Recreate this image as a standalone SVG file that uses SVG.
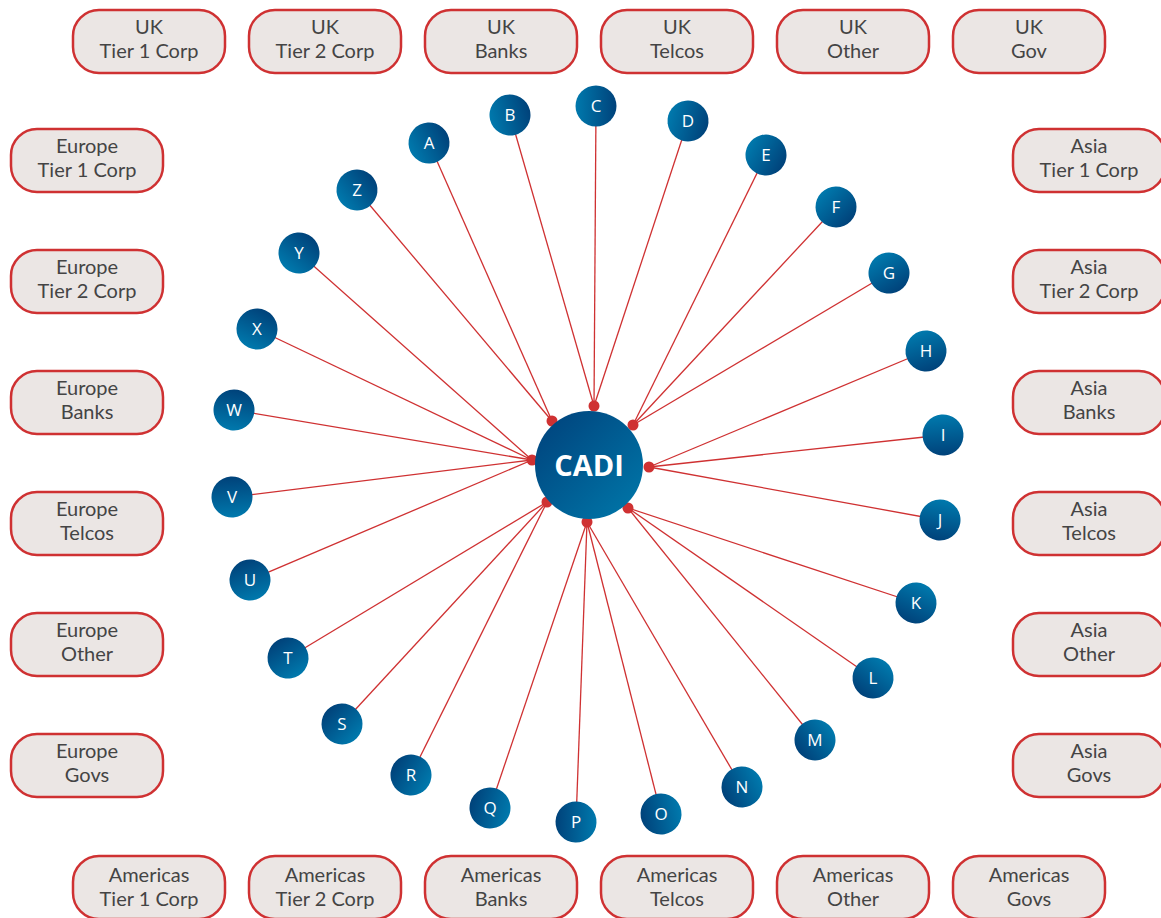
<svg xmlns="http://www.w3.org/2000/svg" width="1161" height="918" viewBox="0 0 1161 918">
<style>
.box rect{fill:#ebe6e4;stroke:#cf3132;stroke-width:2.5}
.box text{font-family:Lato,"Liberation Sans",sans-serif;font-size:20px;fill:#444;text-anchor:middle}
.conn line{stroke:#cf3132;stroke-width:1.3}
.dot{fill:#cf3132}
.node text{font-family:"Open Sans","Liberation Sans",sans-serif;font-size:17px;fill:#fff;text-anchor:middle}
.hub text{font-family:"Open Sans","Liberation Sans",sans-serif;font-size:29px;font-weight:bold;fill:#fff;text-anchor:middle}
</style>
<defs>
<linearGradient id="g" x1="0" y1="0" x2="1" y2="0">
<stop offset="0" stop-color="#0079ad"/>
<stop offset="1" stop-color="#00427a"/>
</linearGradient>
<linearGradient id="gh" x1="0" y1="0" x2="1" y2="1">
<stop offset="0" stop-color="#00407a"/>
<stop offset="1" stop-color="#0079ab"/>
</linearGradient>
</defs>

<g id="boxes">
<g id="uk-t1" class="box"><rect x="73" y="10" width="152" height="63" rx="26"/><text x="149" y="34">UK</text><text x="149" y="58">Tier 1 Corp</text></g>
<g id="uk-t2" class="box"><rect x="249" y="10" width="152" height="63" rx="26"/><text x="325" y="34">UK</text><text x="325" y="58">Tier 2 Corp</text></g>
<g id="uk-banks" class="box"><rect x="425" y="10" width="152" height="63" rx="26"/><text x="501" y="34">UK</text><text x="501" y="58">Banks</text></g>
<g id="uk-telcos" class="box"><rect x="601" y="10" width="152" height="63" rx="26"/><text x="677" y="34">UK</text><text x="677" y="58">Telcos</text></g>
<g id="uk-other" class="box"><rect x="777" y="10" width="152" height="63" rx="26"/><text x="853" y="34">UK</text><text x="853" y="58">Other</text></g>
<g id="uk-gov" class="box"><rect x="953" y="10" width="152" height="63" rx="26"/><text x="1029" y="34">UK</text><text x="1029" y="58">Gov</text></g>

<g id="eu-t1" class="box"><rect x="11" y="129" width="152" height="63" rx="26"/><text x="87" y="153">Europe</text><text x="87" y="177">Tier 1 Corp</text></g>
<g id="eu-t2" class="box"><rect x="11" y="250" width="152" height="63" rx="26"/><text x="87" y="274">Europe</text><text x="87" y="298">Tier 2 Corp</text></g>
<g id="eu-banks" class="box"><rect x="11" y="371" width="152" height="63" rx="26"/><text x="87" y="395">Europe</text><text x="87" y="419">Banks</text></g>
<g id="eu-telcos" class="box"><rect x="11" y="492" width="152" height="63" rx="26"/><text x="87" y="516">Europe</text><text x="87" y="540">Telcos</text></g>
<g id="eu-other" class="box"><rect x="11" y="613" width="152" height="63" rx="26"/><text x="87" y="637">Europe</text><text x="87" y="661">Other</text></g>
<g id="eu-govs" class="box"><rect x="11" y="734" width="152" height="63" rx="26"/><text x="87" y="758">Europe</text><text x="87" y="782">Govs</text></g>

<g id="as-t1" class="box"><rect x="1013" y="129" width="152" height="63" rx="26"/><text x="1089" y="153">Asia</text><text x="1089" y="177">Tier 1 Corp</text></g>
<g id="as-t2" class="box"><rect x="1013" y="250" width="152" height="63" rx="26"/><text x="1089" y="274">Asia</text><text x="1089" y="298">Tier 2 Corp</text></g>
<g id="as-banks" class="box"><rect x="1013" y="371" width="152" height="63" rx="26"/><text x="1089" y="395">Asia</text><text x="1089" y="419">Banks</text></g>
<g id="as-telcos" class="box"><rect x="1013" y="492" width="152" height="63" rx="26"/><text x="1089" y="516">Asia</text><text x="1089" y="540">Telcos</text></g>
<g id="as-other" class="box"><rect x="1013" y="613" width="152" height="63" rx="26"/><text x="1089" y="637">Asia</text><text x="1089" y="661">Other</text></g>
<g id="as-govs" class="box"><rect x="1013" y="734" width="152" height="63" rx="26"/><text x="1089" y="758">Asia</text><text x="1089" y="782">Govs</text></g>

<g id="am-t1" class="box"><rect x="73" y="856" width="152" height="63" rx="26"/><text x="149" y="882">Americas</text><text x="149" y="906">Tier 1 Corp</text></g>
<g id="am-t2" class="box"><rect x="249" y="856" width="152" height="63" rx="26"/><text x="325" y="882">Americas</text><text x="325" y="906">Tier 2 Corp</text></g>
<g id="am-banks" class="box"><rect x="425" y="856" width="152" height="63" rx="26"/><text x="501" y="882">Americas</text><text x="501" y="906">Banks</text></g>
<g id="am-telcos" class="box"><rect x="601" y="856" width="152" height="63" rx="26"/><text x="677" y="882">Americas</text><text x="677" y="906">Telcos</text></g>
<g id="am-other" class="box"><rect x="777" y="856" width="152" height="63" rx="26"/><text x="853" y="882">Americas</text><text x="853" y="906">Other</text></g>
<g id="am-govs" class="box"><rect x="953" y="856" width="152" height="63" rx="26"/><text x="1029" y="882">Americas</text><text x="1029" y="906">Govs</text></g>
</g>

<g id="connectors" class="conn">
<line x1="594" y1="406" x2="510" y2="115"/>
<line x1="594" y1="406" x2="596" y2="106"/>
<line x1="594" y1="406" x2="688" y2="121"/>
<line x1="552" y1="421" x2="429" y2="143"/>
<line x1="552" y1="421" x2="357" y2="190"/>
<line x1="532" y1="460" x2="299" y2="253"/>
<line x1="532" y1="460" x2="257" y2="329"/>
<line x1="532" y1="460" x2="234" y2="410"/>
<line x1="532" y1="460" x2="232" y2="497"/>
<line x1="532" y1="460" x2="250" y2="580"/>
<line x1="547" y1="502" x2="288" y2="658"/>
<line x1="547" y1="502" x2="342" y2="724"/>
<line x1="547" y1="502" x2="411" y2="775"/>
<line x1="587" y1="522" x2="490" y2="808"/>
<line x1="587" y1="522" x2="576" y2="822"/>
<line x1="587" y1="522" x2="661" y2="814"/>
<line x1="587" y1="522" x2="742" y2="787"/>
<line x1="628" y1="508" x2="815" y2="740"/>
<line x1="628" y1="508" x2="873" y2="678"/>
<line x1="628" y1="508" x2="916" y2="603"/>
<line x1="649" y1="467" x2="940" y2="520"/>
<line x1="649" y1="467" x2="943" y2="435"/>
<line x1="649" y1="467" x2="926" y2="351"/>
<line x1="633" y1="425" x2="889" y2="273"/>
<line x1="633" y1="425" x2="836" y2="207"/>
<line x1="633" y1="425" x2="766" y2="155"/>
<circle class="dot" cx="594" cy="406" r="5.5"/>
<circle class="dot" cx="552" cy="421" r="5.5"/>
<circle class="dot" cx="532" cy="460" r="5.5"/>
<circle class="dot" cx="547" cy="502" r="5.5"/>
<circle class="dot" cx="587" cy="522" r="5.5"/>
<circle class="dot" cx="628" cy="508" r="5.5"/>
<circle class="dot" cx="649" cy="467" r="5.5"/>
<circle class="dot" cx="633" cy="425" r="5.5"/>
</g>

<g id="hub" class="hub"><circle cx="589" cy="465" r="54" fill="url(#gh)"/><text x="589" y="476">CADI</text></g>

<g id="nodes">
<g id="nA" class="node"><circle cx="429" cy="143" r="20.5" fill="url(#g)" transform="rotate(-26 429 143)"/><text x="429" y="149">A</text></g>
<g id="nB" class="node"><circle cx="510" cy="115" r="20.5" fill="url(#g)" transform="rotate(-14 510 115)"/><text x="510" y="121">B</text></g>
<g id="nC" class="node"><circle cx="596" cy="106" r="20.5" fill="url(#g)" transform="rotate(0 596 106)"/><text x="596" y="112">C</text></g>
<g id="nD" class="node"><circle cx="688" cy="121" r="20.5" fill="url(#g)" transform="rotate(16 688 121)"/><text x="688" y="127">D</text></g>
<g id="nE" class="node"><circle cx="766" cy="155" r="20.5" fill="url(#g)" transform="rotate(30 766 155)"/><text x="766" y="161">E</text></g>
<g id="nF" class="node"><circle cx="836" cy="207" r="20.5" fill="url(#g)" transform="rotate(44 836 207)"/><text x="836" y="213">F</text></g>
<g id="nG" class="node"><circle cx="889" cy="273" r="20.5" fill="url(#g)" transform="rotate(58 889 273)"/><text x="889" y="279">G</text></g>
<g id="nH" class="node"><circle cx="926" cy="351" r="20.5" fill="url(#g)" transform="rotate(72 926 351)"/><text x="926" y="357">H</text></g>
<g id="nI" class="node"><circle cx="943" cy="435" r="20.5" fill="url(#g)" transform="rotate(85 943 435)"/><text x="943" y="441">I</text></g>
<g id="nJ" class="node"><circle cx="940" cy="520" r="20.5" fill="url(#g)" transform="rotate(100 940 520)"/><text x="940" y="526">J</text></g>
<g id="nK" class="node"><circle cx="916" cy="603" r="20.5" fill="url(#g)" transform="rotate(115 916 603)"/><text x="916" y="609">K</text></g>
<g id="nL" class="node"><circle cx="873" cy="678" r="20.5" fill="url(#g)" transform="rotate(128 873 678)"/><text x="873" y="684">L</text></g>
<g id="nM" class="node"><circle cx="815" cy="740" r="20.5" fill="url(#g)" transform="rotate(142 815 740)"/><text x="815" y="746">M</text></g>
<g id="nN" class="node"><circle cx="742" cy="787" r="20.5" fill="url(#g)" transform="rotate(155 742 787)"/><text x="742" y="793">N</text></g>
<g id="nO" class="node"><circle cx="661" cy="814" r="20.5" fill="url(#g)" transform="rotate(170 661 814)"/><text x="661" y="820">O</text></g>
<g id="nP" class="node"><circle cx="576" cy="822" r="20.5" fill="url(#g)" transform="rotate(182 576 822)"/><text x="576" y="828">P</text></g>
<g id="nQ" class="node"><circle cx="490" cy="808" r="20.5" fill="url(#g)" transform="rotate(196 490 808)"/><text x="490" y="814">Q</text></g>
<g id="nR" class="node"><circle cx="411" cy="775" r="20.5" fill="url(#g)" transform="rotate(210 411 775)"/><text x="411" y="781">R</text></g>
<g id="nS" class="node"><circle cx="342" cy="724" r="20.5" fill="url(#g)" transform="rotate(224 342 724)"/><text x="342" y="730">S</text></g>
<g id="nT" class="node"><circle cx="288" cy="658" r="20.5" fill="url(#g)" transform="rotate(238 288 658)"/><text x="288" y="664">T</text></g>
<g id="nU" class="node"><circle cx="250" cy="580" r="20.5" fill="url(#g)" transform="rotate(252 250 580)"/><text x="250" y="586">U</text></g>
<g id="nV" class="node"><circle cx="232" cy="497" r="20.5" fill="url(#g)" transform="rotate(266 232 497)"/><text x="232" y="503">V</text></g>
<g id="nW" class="node"><circle cx="234" cy="410" r="20.5" fill="url(#g)" transform="rotate(280 234 410)"/><text x="234" y="416">W</text></g>
<g id="nX" class="node"><circle cx="257" cy="329" r="20.5" fill="url(#g)" transform="rotate(295 257 329)"/><text x="257" y="335">X</text></g>
<g id="nY" class="node"><circle cx="299" cy="253" r="20.5" fill="url(#g)" transform="rotate(310 299 253)"/><text x="299" y="259">Y</text></g>
<g id="nZ" class="node"><circle cx="357" cy="190" r="20.5" fill="url(#g)" transform="rotate(322 357 190)"/><text x="357" y="196">Z</text></g>
</g>
</svg>
